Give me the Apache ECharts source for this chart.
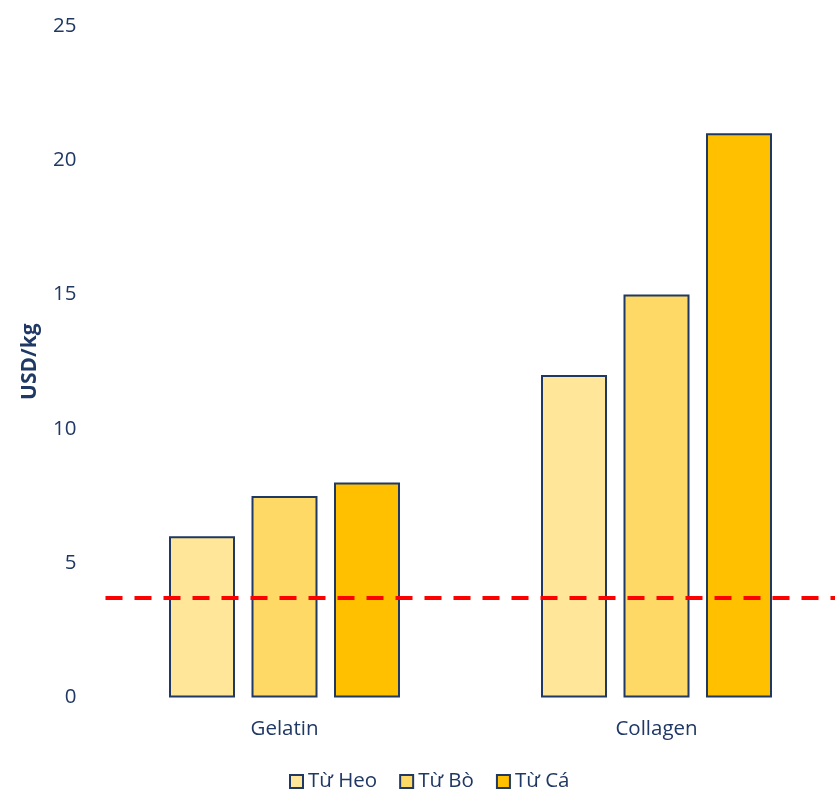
<!DOCTYPE html>
<html>
<head>
<meta charset="utf-8">
<script src="https://cdn.jsdelivr.net/npm/echarts@6/dist/echarts.min.js"></script>
<style>
  html, body { margin: 0; padding: 0; background: #fff; }
  #chart { width: 835px; height: 791px; }
</style>
</head>
<body>
<div id="chart"></div>
<script>
// data
var categories = ['Gelatin', 'Collagen'];
var seriesNames = ['Từ Heo', 'Từ Bò', 'Từ Cá'];
var heo = [6, 12];
var bo = [7.5, 15];
var ca = [8, 21];
var refLine = 3.7;   // red dashed line
var yTicks = [0, 5, 10, 15, 20, 25];

var navy = '#1F3864';
var colors = ['#FFE699', '#FFD966', '#FFC000'];
var font = '"Open Sans", Lato, sans-serif';

var chart = echarts.init(document.getElementById('chart'));

function barSeries(name, values, color, withLine) {
    var s = {
        name: name,
        type: 'bar',
        data: values,
        barWidth: 66,
        barGap: '25%',
        itemStyle: {
            color: color,
            borderColor: navy,
            borderWidth: 2
        }
    };
    if (withLine) {
        s.markLine = {
            silent: true,
            symbol: 'none',
            label: { show: false },
            lineStyle: { color: '#FF0000', width: 4, type: [17, 12], dashOffset: 22 },
            data: [{ yAxis: refLine }]
        };
    }
    return s;
}

var option = {
    animation: false,
    backgroundColor: '#fff',
    textStyle: { fontFamily: font },
    grid: {
        left: 98.5,
        right: -7.5,
        top: 25.8,
        bottom: 93.5,
        outerBoundsMode: 'none',
        containLabel: false
    },
    legend: {
        bottom: -6,
        left: 284,
        icon: 'rect',
        itemWidth: 13,
        itemHeight: 13,
        itemGap: 22,
        itemStyle: { borderColor: navy, borderWidth: 2 },
        textStyle: { color: navy, fontSize: 20.5, fontFamily: font },
        data: seriesNames
    },
    xAxis: {
        type: 'category',
        data: categories,
        axisLine: { show: false },
        axisTick: { show: false },
        axisLabel: { color: navy, fontSize: 20.5, margin: 21 }
    },
    yAxis: {
        type: 'value',
        min: yTicks[0],
        max: yTicks[yTicks.length - 1],
        interval: 5,
        name: 'USD/kg',
        nameLocation: 'middle',
        nameGap: 58,
        nameTextStyle: { color: navy, fontSize: 21, fontWeight: 'bold', fontFamily: font },
        axisLine: { show: false },
        axisTick: { show: false },
        splitLine: { show: false },
        axisLabel: { color: navy, fontSize: 20.5, margin: 22 }
    },
    series: [
        barSeries(seriesNames[0], heo, colors[0], true),
        barSeries(seriesNames[1], bo, colors[1], false),
        barSeries(seriesNames[2], ca, colors[2], false)
    ]
};

chart.setOption(option);
</script>
</body>
</html>
